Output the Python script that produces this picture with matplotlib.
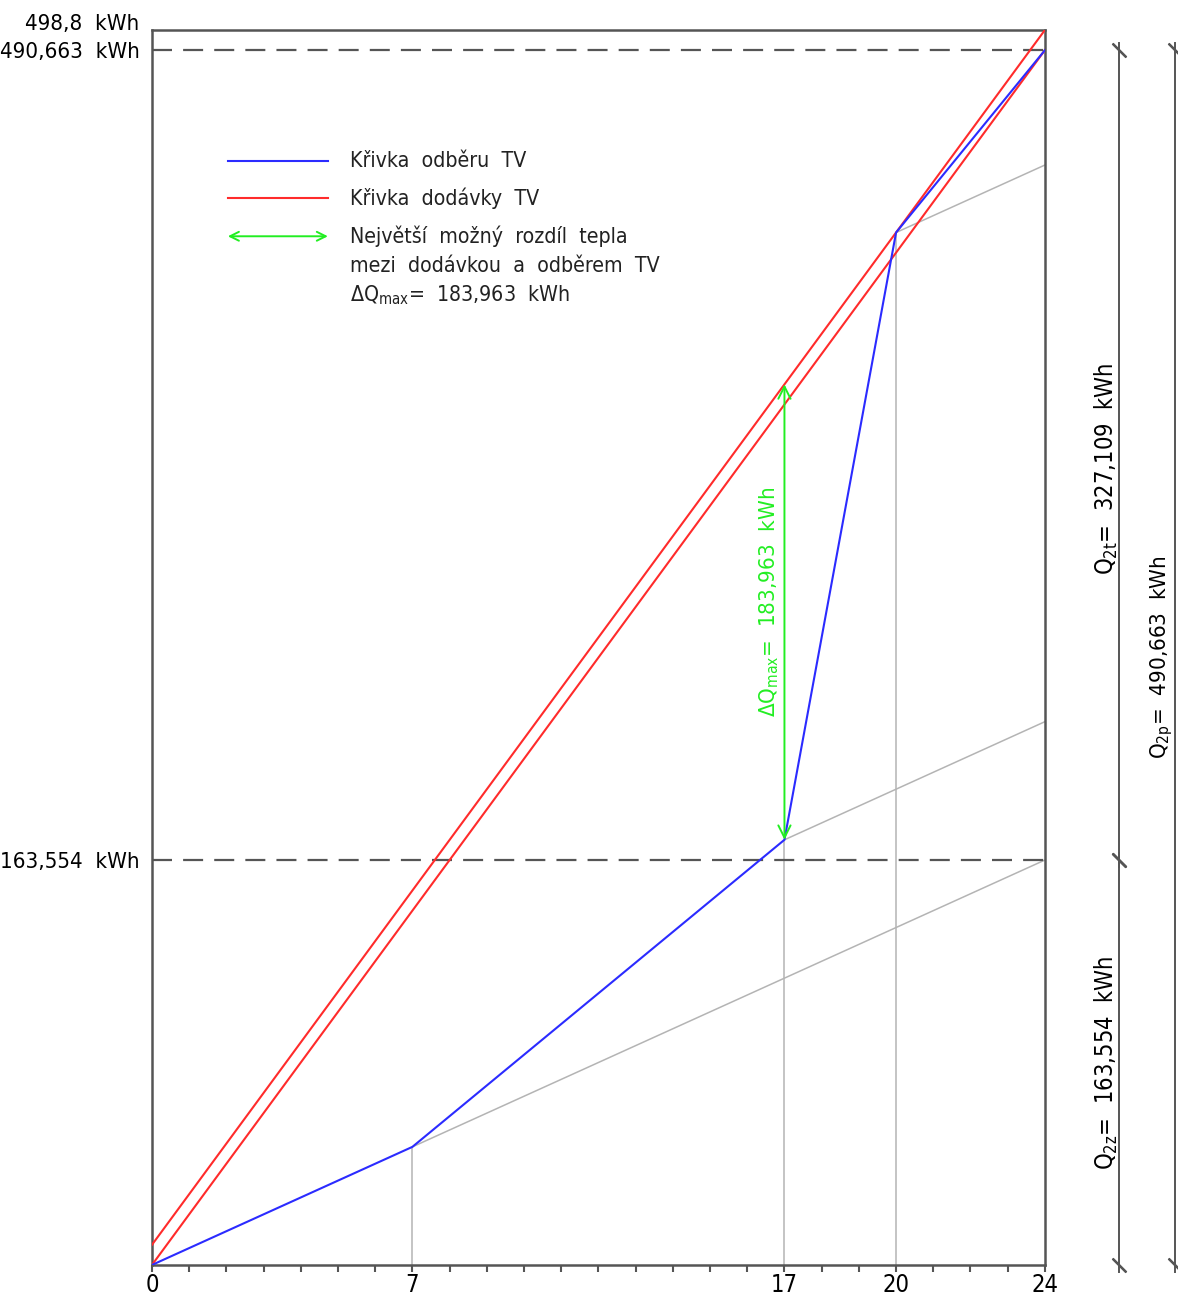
import numpy as np
import matplotlib.pyplot as plt

# casova osa [h] a kumulativni teplo [kWh]
hodiny = [0, 7, 17, 20, 24]
q_odber = [0, 47.70, 171.73, 417.02, 490.663]       # krivka odberu TV
hod_dodavka = [0, 24]
q_dodavka = [0, 490.663]                            # krivka dodavky TV
q_dodavka_posun = [8.137, 498.8]                    # posunuta krivka dodavky

q2z = 163.554
q2t = 327.109
q2p = 490.663
q_max_osa = 498.8
dq_max = 183.963

ytick_vals = [163.554, 490.663, 498.8]
ytick_labels = ["163,554  kWh", "490,663  kWh", "498,8  kWh"]
xtick_vals = [0, 7, 17, 20, 24]

modra = '#2b2bff'
cervena = '#ff2b2b'
zelena = '#22ee22'
seda = '#b4b4b4'
tmava = '#555555'

plt.rcParams['font.family'] = ['DejaVu Sans']
plt.rcParams['font.stretch'] = 'condensed'
plt.rcParams['mathtext.fontset'] = 'custom'
plt.rcParams['mathtext.rm'] = 'DejaVu Sans:stretch=condensed'
plt.rcParams['mathtext.it'] = 'DejaVu Sans:italic:stretch=condensed'

fig = plt.figure(figsize=(11.78, 12.95), dpi=100)
ax = fig.add_axes([0.129, 0.0232, 0.758, 0.9536])

# sede pomocne cary
sklon = q2z / 24
for h, q in zip(hodiny[1:4], q_odber[1:4]):
    ax.plot([h, 24], [q, q + sklon*(24 - h)], color=seda, lw=1.1, zorder=1)
ax.vlines(hodiny[1:4], 0, q_odber[1:4], color=seda, lw=1.1, zorder=1)

# carkovane urovne
for q in [q2z, q2p]:
    ax.axhline(q, color=tmava, lw=1.6, dashes=(9, 5), zorder=1)

# krivky
ax.plot(hod_dodavka, q_dodavka, color=cervena, lw=1.5, zorder=3)
ax.plot(hod_dodavka, q_dodavka_posun, color=cervena, lw=1.5, zorder=3)
ax.plot(hodiny, q_odber, color=modra, lw=1.5, zorder=4)

# nejvetsi rozdil
ax.annotate('', xy=(17, q_odber[2] + dq_max), xytext=(17, q_odber[2]),
            arrowprops=dict(arrowstyle='<->', color=zelena, lw=1.4,
                            mutation_scale=22, shrinkA=0, shrinkB=0), zorder=5)
ax.text(16.6, q_odber[2] + dq_max/2 + 4, "ΔQ$_{\\mathrm{max}}$=  183,963  kWh",
        rotation=90, ha='center', va='center', color=zelena, fontsize=16)

# legenda
tr = ax.transAxes
ax.plot([0.085, 0.197], [0.894, 0.894], color=modra, lw=1.5, transform=tr)
ax.plot([0.085, 0.197], [0.864, 0.864], color=cervena, lw=1.5, transform=tr)
ax.annotate('', xy=(0.085, 0.833), xytext=(0.197, 0.833), xycoords=tr,
            arrowprops=dict(arrowstyle='<->', color=zelena, lw=1.4,
                            mutation_scale=16, shrinkA=0, shrinkB=0))
leg_txt = [(0.894, "Křivka  odběru  TV"),
           (0.864, "Křivka  dodávky  TV"),
           (0.833, "Největší  možný  rozdíl  tepla"),
           (0.809, "mezi  dodávkou  a  odběrem  TV"),
           (0.785, "ΔQ$_{\\mathrm{max}}$=  183,963  kWh")]
for y, s in leg_txt:
    ax.text(0.222, y, s, transform=tr, ha='left', va='center', fontsize=15.3, color='#222222')

# osy
ax.set_xlim(0, 24)
ax.set_ylim(0, q_max_osa)
ax.set_xticks(xtick_vals)
ax.set_xticks(np.arange(0, 25, 1), minor=True)
ax.tick_params(axis='x', which='both', direction='out', length=5, width=1.5,
               color=tmava, labelsize=17, pad=1)
ax.set_yticks(ytick_vals)
ax.set_yticklabels(ytick_labels)
ax.tick_params(axis='y', length=0, labelsize=16, pad=9)
ax.get_yticklabels()[2].set_va('baseline')
for sp in ax.spines.values():
    sp.set_color(tmava)
    sp.set_linewidth(1.8)

# kotovani vpravo
def kota(x, y0, y1, popis, xt, yt, fs):
    ax.plot([x, x], [y0 - 3, y1 + 3], color=tmava, lw=1.4, clip_on=False)
    ax.plot([x, x], [y0, y1], ls='none', marker=(2, 2, 45), ms=14, mew=1.6,
            color=tmava, clip_on=False)
    ax.text(xt, yt, popis, rotation=90, ha='center', va='center',
            fontsize=fs, clip_on=False)

kota(26.0, 0, q2z, "Q$_{\\mathrm{2z}}$=  163,554  kWh", 25.66, q2z/2, 17)
kota(26.0, q2z, q2p, "Q$_{\\mathrm{2t}}$=  327,109  kWh", 25.66, q2z + q2t/2 - 5.5, 17)
kota(27.5, 0, q2p, "Q$_{\\mathrm{2p}}$=  490,663  kWh", 27.14, q2p/2, 16)

fig.savefig('out.png', dpi=100)
